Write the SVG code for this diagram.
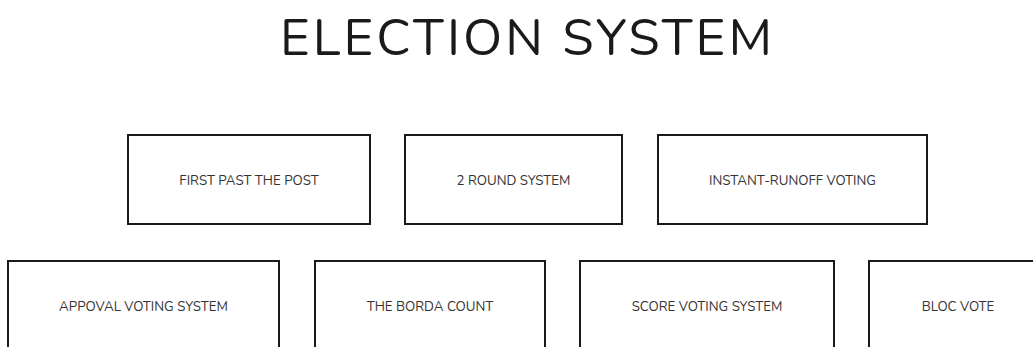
<svg xmlns="http://www.w3.org/2000/svg" width="1033" height="347" viewBox="0 0 1033 347">
<style>
.box{fill:#fff;stroke:#1a1a1a;stroke-width:2}
.lbl{font-family:"Nunito","Open Sans","Liberation Sans",sans-serif;font-size:13.3px;fill:#333;text-anchor:middle}
.title{font-family:"Nunito","Open Sans","Liberation Sans",sans-serif;font-size:51px;fill:#1a1a1a;text-anchor:middle}
</style>
<rect width="1033" height="347" fill="#fff"/>
<text class="title" x="526" y="55" textLength="492" lengthAdjust="spacing">ELECTION SYSTEM</text>
<g id="connectors"></g>
<g id="n1"><rect class="box" x="128" y="135" width="242" height="89"/><text class="lbl" x="249" y="185">FIRST PAST THE POST</text></g>
<g id="n2"><rect class="box" x="405" y="135" width="217" height="89"/><text class="lbl" x="513.5" y="185">2 ROUND SYSTEM</text></g>
<g id="n3"><rect class="box" x="658" y="135" width="269" height="89"/><text class="lbl" x="792.5" y="185">INSTANT-RUNOFF VOTING</text></g>
<g id="n4"><rect class="box" x="8" y="261" width="271" height="100"/><text class="lbl" x="143.5" y="311">APPOVAL VOTING SYSTEM</text></g>
<g id="n5"><rect class="box" x="315" y="261" width="230" height="100"/><text class="lbl" x="430" y="311">THE BORDA COUNT</text></g>
<g id="n6"><rect class="box" x="580" y="261" width="254" height="100"/><text class="lbl" x="707" y="311">SCORE VOTING SYSTEM</text></g>
<g id="n7"><rect class="box" x="869" y="261" width="200" height="100"/><text class="lbl" x="958" y="311">BLOC VOTE</text></g>
</svg>
